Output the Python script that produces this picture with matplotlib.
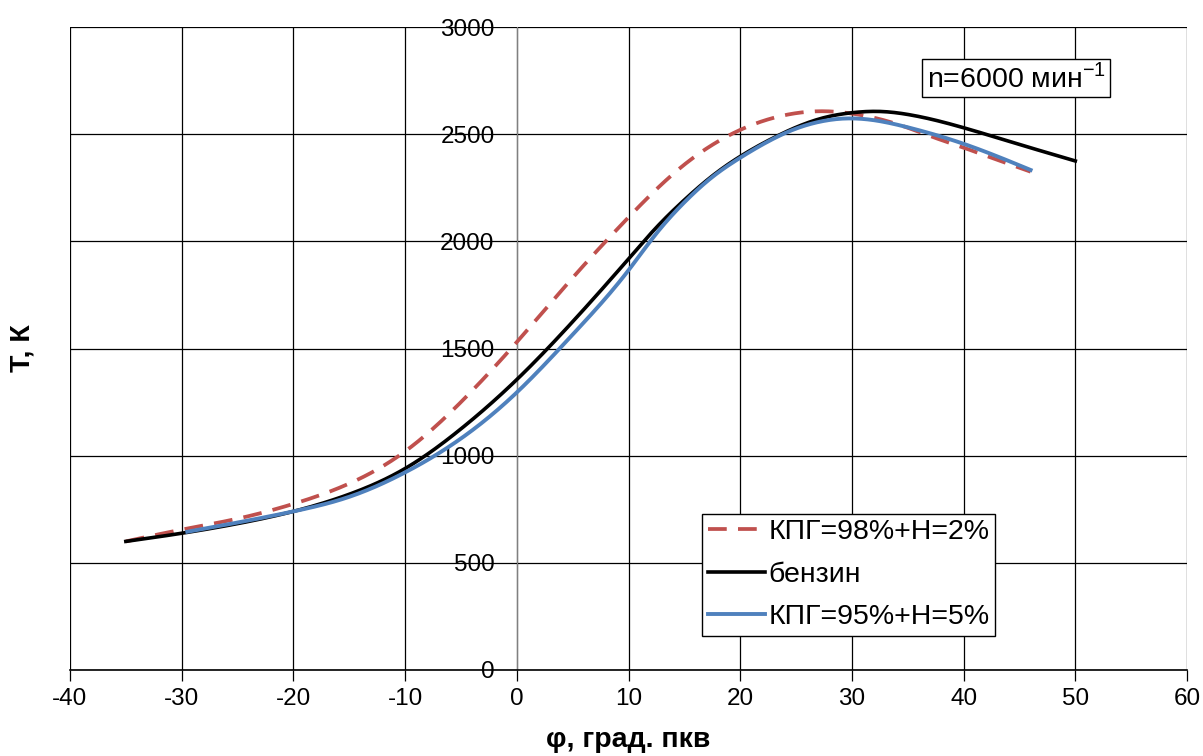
import matplotlib.pyplot as plt
import numpy as np

plt.rcParams['font.family'] = ['Liberation Sans', 'DejaVu Sans']
plt.rcParams['mathtext.fontset'] = 'custom'
plt.rcParams['mathtext.rm'] = 'Liberation Sans'
plt.rcParams['axes.unicode_minus'] = False

# КПГ=98%+Н=2%
phi_98 = [-35, -30, -25, -20, -15, -10, -5, 0, 5, 10, 12.5, 15, 17.5, 20, 22.5, 25, 27.5, 30, 32.5, 35, 37.5, 40, 42.5, 46]
t_98 = [600, 655, 706, 775, 870, 1020, 1250, 1530, 1830, 2112, 2243, 2358, 2450, 2520, 2569, 2598, 2607, 2596, 2570, 2530, 2482, 2437, 2390, 2325]

# бензин
phi_gas = [-35, -30, -25, -20, -15, -10, -5, 0, 5, 10, 12.5, 15, 17.5, 20, 22.5, 25, 27.5, 30, 32.5, 35, 40, 45, 50]
t_gas = [600, 638, 683, 740, 820, 940, 1125, 1355, 1625, 1918, 2065, 2193, 2305, 2396, 2470, 2532, 2577, 2600, 2606, 2592, 2530, 2452, 2375]

# КПГ=95%+Н=5%
phi_95 = [-29.5, -25, -20, -15, -10, -5, 0, 5, 10, 12.5, 15, 17.5, 20, 22.5, 25, 27.5, 29, 32, 35, 40, 46]
t_95 = [645, 688, 740, 808, 922, 1080, 1295, 1565, 1865, 2037, 2182, 2300, 2390, 2466, 2526, 2562, 2572, 2565, 2532, 2455, 2333]


def spline(x, y, n=400):
    # natural cubic spline through the read points
    x = np.asarray(x, float)
    y = np.asarray(y, float)
    h = np.diff(x)
    m = len(x)
    A = np.zeros((m, m))
    b = np.zeros(m)
    A[0, 0] = A[-1, -1] = 1
    for i in range(1, m - 1):
        A[i, i - 1] = h[i - 1]
        A[i, i] = 2 * (h[i - 1] + h[i])
        A[i, i + 1] = h[i]
        b[i] = 6 * ((y[i + 1] - y[i]) / h[i] - (y[i] - y[i - 1]) / h[i - 1])
    M = np.linalg.solve(A, b)
    xs = np.linspace(x[0], x[-1], n)
    k = np.clip(np.searchsorted(x, xs) - 1, 0, m - 2)
    t1 = x[k + 1] - xs
    t0 = xs - x[k]
    ys = (M[k] * t1 ** 3 + M[k + 1] * t0 ** 3) / (6 * h[k]) \
        + (y[k] / h[k] - M[k] * h[k] / 6) * t1 + (y[k + 1] / h[k] - M[k + 1] * h[k] / 6) * t0
    return xs, ys


fig = plt.figure(figsize=(12.03, 7.56), dpi=100)
ax = fig.add_axes([70 / 1203, 86 / 756, 1117 / 1203, 643 / 756])

ax.plot(*spline(phi_98, t_98), color='#c0504d', lw=2.7, dashes=(5, 3.0), label='КПГ=98%+Н=2%', zorder=3)
ax.plot(*spline(phi_gas, t_gas), color='black', lw=2.6, label='бензин', zorder=4)
ax.plot(*spline(phi_95, t_95), color='#4f81bd', lw=2.8, label='КПГ=95%+Н=5%', zorder=5)

ax.set_xlim(-40, 60)
ax.set_ylim(0, 3000)
ax.set_xticks(np.arange(-40, 61, 10))
ax.set_yticks(np.arange(0, 3001, 500))
ax.grid(True, color='black', lw=0.9)
ax.set_axisbelow(True)

for s in ['top', 'right']:
    ax.spines[s].set_visible(False)
ax.spines['left'].set_position(('data', 0))
ax.spines['left'].set_color('#808080')
ax.spines['bottom'].set_linewidth(1.2)

ax.tick_params(axis='x', direction='out', length=8, width=0.9, labelsize=17.5, pad=5)
ax.tick_params(axis='y', length=0, labelsize=17.5, pad=16)

ax.set_xlabel('φ, град. пкв', fontsize=20.5, fontweight='bold', labelpad=12)
ax.set_ylabel('Т, К', fontsize=20.5, fontweight='bold')
ax.yaxis.set_label_coords(-0.031, 0.5)

leg = ax.legend(loc='lower left', bbox_to_anchor=(0.566, 0.053), borderaxespad=0,
                fontsize=20.5, fancybox=False, edgecolor='black', framealpha=1,
                handlelength=2.0, handletextpad=0.12, labelspacing=0.58,
                borderpad=0.2)
leg.get_frame().set_linewidth(1.0)

ax.text(44.7, 2762, 'n=6000 мин$^{-1}$', fontsize=20.5, ha='center', va='center',
        bbox=dict(boxstyle='square,pad=0.15', fc='white', ec='black', lw=1.0), zorder=6)

fig.savefig('out.png', dpi=100)
